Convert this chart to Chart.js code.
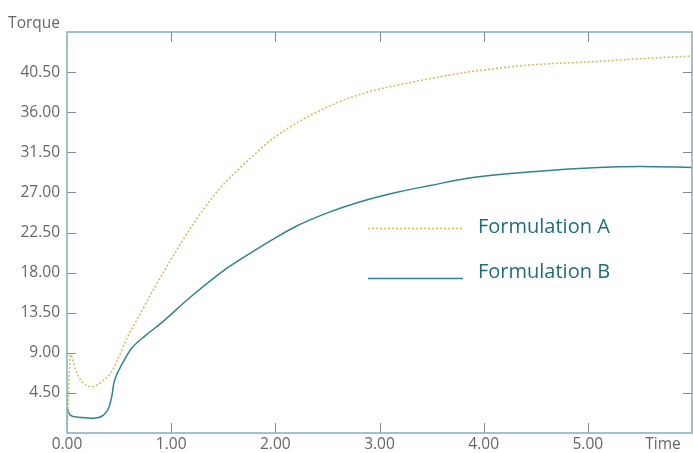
<!DOCTYPE html>
<html>
<head>
<meta charset="utf-8">
<script src="https://cdn.jsdelivr.net/npm/chart.js@4.4.1/dist/chart.umd.min.js"></script>
<style>
  html, body { margin: 0; padding: 0; background: #fff; }
  canvas { display: block; }
</style>
</head>
<body>
<canvas id="torqueChart" width="693" height="453"></canvas>
<script>
// values
const timeA = [0, 0.035, 0.08, 0.14, 0.24, 0.34, 0.43, 0.5, 0.57, 0.7, 0.85, 1.0, 1.22, 1.4, 1.56, 1.74, 1.95, 2.25, 2.6, 2.9, 3.2, 3.5, 3.85, 4.45, 5.1, 5.5, 6.0];
const torqueA = [0, 8.8, 7.1, 5.8, 5.2, 5.8, 6.9, 8.6, 10.5, 13.3, 16.5, 19.5, 23.6, 26.5, 28.6, 30.6, 32.8, 35.1, 37.1, 38.3, 39.1, 39.8, 40.5, 41.3, 41.7, 42.0, 42.3];

const timeB = [0, 0.03, 0.11, 0.24, 0.35, 0.4, 0.43, 0.45, 0.5, 0.56, 0.62, 0.75, 0.9, 1.2, 1.5, 1.75, 2.0, 2.2, 2.5, 2.8, 3.2, 3.5, 3.85, 4.5, 5.1, 5.5, 6.0];
const torqueB = [2.8, 2.0, 1.77, 1.65, 2.0, 2.8, 4.1, 5.6, 7.1, 8.4, 9.5, 10.9, 12.3, 15.4, 18.2, 20.1, 21.9, 23.2, 24.7, 25.9, 27.1, 27.8, 28.6, 29.35, 29.8, 29.9, 29.8];

const xTicks = [1, 2, 3, 4, 5];
const yTicks = [4.5, 9, 13.5, 18, 22.5, 27, 31.5, 36, 40.5];

const colorA = "#d6b75a";
const colorB = "#2f8393";
const legendText = "#1f6c7b";
const frameColor = "#7eb0bc";
const tickColor = "#8a8a8a";
const labelColor = "#666666";
const fontFamily = "'Open Sans', sans-serif";

const decorations = {
  id: "decorations",
  afterDraw(chart) {
    const c = chart.ctx;
    const a = chart.chartArea;
    const xs = chart.scales.x;
    const ys = chart.scales.y;
    c.save();

    // inward tick marks
    c.strokeStyle = tickColor;
    c.lineWidth = 1;
    c.beginPath();
    yTicks.forEach((v) => {
      const y = Math.round(ys.getPixelForValue(v)) + 0.5;
      c.moveTo(a.left, y); c.lineTo(a.left + 9, y);
      c.moveTo(a.right, y); c.lineTo(a.right - 9, y);
    });
    xTicks.forEach((v) => {
      const x = Math.round(xs.getPixelForValue(v)) + 0.5;
      c.moveTo(x, a.bottom); c.lineTo(x, a.bottom - 10);
      c.moveTo(x, a.top); c.lineTo(x, a.top + 10);
    });
    c.stroke();

    // frame
    c.strokeStyle = frameColor;
    c.lineWidth = 1.5;
    c.strokeRect(a.left, a.top, a.right - a.left, a.bottom - a.top);

    // axis titles
    c.fillStyle = labelColor;
    c.font = "15.5px " + fontFamily;
    c.textBaseline = "middle";
    c.textAlign = "right";
    c.fillText("Torque", 60, 24);
    c.textAlign = "center";
    c.fillText("Time", 663, 445);

    // legend
    c.font = "20px " + fontFamily;
    c.textAlign = "left";
    const rows = [228, 278];
    chart.data.datasets.forEach((ds, i) => {
      const y = rows[i];
      c.strokeStyle = ds.borderColor;
      c.lineWidth = ds.borderWidth;
      c.setLineDash(ds.borderDash || []);
      c.beginPath();
      c.moveTo(368, y + 0.5);
      c.lineTo(463, y + 0.5);
      c.stroke();
      c.setLineDash([]);
      c.fillStyle = legendText;
      c.fillText(ds.label, 478, i === 0 ? 227 : 272);
    });
    c.restore();
  }
};

new Chart(document.getElementById("torqueChart").getContext("2d"), {
  type: "line",
  data: {
    datasets: [
      {
        label: "Formulation A",
        data: timeA.map((t, i) => ({ x: t, y: torqueA[i] })),
        borderColor: colorA,
        borderWidth: 1.5,
        borderDash: [2, 2],
        pointRadius: 0,
        cubicInterpolationMode: "monotone"
      },
      {
        label: "Formulation B",
        data: timeB.map((t, i) => ({ x: t, y: torqueB[i] })),
        borderColor: colorB,
        borderWidth: 1.5,
        pointRadius: 0,
        cubicInterpolationMode: "monotone"
      }
    ]
  },
  options: {
    responsive: false,
    animation: false,
    layout: { padding: { top: 32, right: 1, left: 0, bottom: 0 } },
    plugins: { legend: { display: false }, tooltip: { enabled: false } },
    scales: {
      x: {
        type: "linear",
        min: 0,
        max: 6,
        afterFit: (s) => { s.height = 20; s.paddingLeft = 0; s.paddingRight = 0; },
        grid: { display: false, drawTicks: false },
        border: { display: false },
        ticks: {
          stepSize: 1,
          autoSkip: false,
          maxRotation: 0,
          padding: 2,
          color: labelColor,
          font: { family: fontFamily, size: 15.5 },
          callback: (v) => (v >= 6 ? "" : Number(v).toFixed(2))
        }
      },
      y: {
        min: 0,
        max: 45,
        afterFit: (s) => { s.width = 67; s.paddingTop = 0; s.paddingBottom = 0; },
        grid: { display: false, drawTicks: false },
        border: { display: false },
        ticks: {
          stepSize: 4.5,
          padding: 7,
          color: labelColor,
          font: { family: fontFamily, size: 15.5 },
          callback: (v) => (v <= 0 || v >= 45 ? "" : Number(v).toFixed(2))
        }
      }
    }
  },
  plugins: [decorations]
});
</script>
</body>
</html>
